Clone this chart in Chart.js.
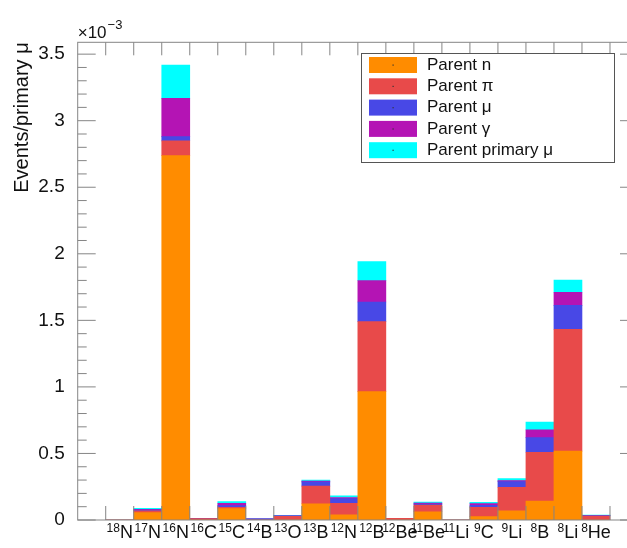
<!DOCTYPE html>
<html>
<head>
<meta charset="utf-8">
<script src="https://cdn.jsdelivr.net/npm/chart.js@4/dist/chart.umd.min.js"></script>
<style>
html,body{margin:0;padding:0;background:#fff;overflow:hidden;}
#wrap{width:627px;height:548px;overflow:hidden;}
canvas{display:block;}
</style>
</head>
<body>
<div id="wrap"><canvas id="c" width="645" height="548"></canvas></div>
<script>
// Isotope bins: mass number (drawn as superscript) and element symbol
const massNumbers = ['18','17','16','16','15','14','13','13','12','12','12','11','11','9','9','8','8','8'];
const elements    = ['N','N','N','C','C','B','O','B','N','B','Be','Be','Li','C','Li','B','Li','He'];

// Events per primary muon (units of 1e-3), split by parent particle
const parentN      = [0, 0.055, 2.737, 0,     0.085, 0,     0,     0.122, 0.038, 0.964, 0,     0.062, 0, 0.025, 0.068, 0.143, 0.518, 0];
const parentPi     = [0, 0.013, 0.111, 0.010, 0.011, 0,     0.028, 0.133, 0.088, 0.526, 0.012, 0.050, 0, 0.071, 0.178, 0.366, 0.915, 0.030];
const parentMu     = [0, 0.006, 0.032, 0,     0.012, 0.008, 0.004, 0.032, 0.035, 0.148, 0,     0.008, 0, 0.015, 0.042, 0.110, 0.180, 0.003];
const parentGamma  = [0, 0.006, 0.288, 0,     0.018, 0,     0,     0.005, 0.008, 0.160, 0,     0.007, 0, 0.012, 0.008, 0.058, 0.098, 0];
const parentPrimMu = [0, 0.008, 0.250, 0,     0.012, 0,     0.004, 0.008, 0.013, 0.143, 0,     0.007, 0, 0.010, 0.015, 0.058, 0.092, 0.004];

const seriesNames  = ['Parent n', 'Parent \u03C0', 'Parent \u03BC', 'Parent \u03B3', 'Parent primary \u03BC'];
const seriesColors = ['#ff8c00', '#e84a4a', '#4848e6', '#b414b4', '#00ffff'];

const yTickStep = 0.5;
const yMinorStep = 0.1;
const yMax = 3.589;

const FONT = "'Liberation Sans', Arial, sans-serif";

// one empty bin on each side of the labelled isotopes
const categories = [''].concat(massNumbers.map((m, i) => m + elements[i]), ['']);
const pad = arr => [null].concat(arr, [null]);
const seriesValues = [parentN, parentPi, parentMu, parentGamma, parentPrimMu];

const datasets = seriesValues.map((vals, k) => ({
  label: seriesNames[k],
  data: pad(vals),
  backgroundColor: seriesColors[k],
  borderWidth: 0,
  barPercentage: 1.0,
  categoryPercentage: 1.0,
  stack: 'parents'
}));

// frame, inward ticks, isotope labels, exponent and legend box
const decorations = {
  id: 'decorations',
  afterDatasetsDraw(chart) {
    const { ctx, chartArea: a, scales: { x, y } } = chart;
    ctx.save();
    ctx.strokeStyle = '#858585';
    ctx.lineWidth = 1;
    ctx.beginPath();
    const n = chart.data.labels.length;
    for (let i = 1; i < n; i++) {
      const xe = (x.getPixelForValue(i - 1) + x.getPixelForValue(i)) / 2;
      ctx.moveTo(xe, a.bottom); ctx.lineTo(xe, a.bottom - 14);
      ctx.moveTo(xe, a.top); ctx.lineTo(xe, a.top + 13);
    }
    const steps = Math.round(yMax / yMinorStep);
    for (let k = 0; k <= steps; k++) {
      const v = k * yMinorStep;
      if (v > yMax) break;
      const yp = y.getPixelForValue(v);
      const major = Math.abs(v / yTickStep - Math.round(v / yTickStep)) < 1e-6;
      const len = major ? 18 : 9;
      ctx.moveTo(a.left, yp); ctx.lineTo(a.left + len, yp);
      ctx.moveTo(a.right, yp); ctx.lineTo(a.right - len, yp);
    }
    ctx.stroke();
    ctx.strokeRect(a.left, a.top, a.right - a.left, a.bottom - a.top);
    ctx.restore();
  },
  afterDraw(chart) {
    const { ctx, chartArea: a, scales: { x } } = chart;
    ctx.save();
    ctx.fillStyle = '#111';
    ctx.textBaseline = 'alphabetic';
    ctx.textAlign = 'left';
    // isotope labels with superscript mass numbers
    const supFont = '12px ' + FONT;
    const mainFont = '18px ' + FONT;
    massNumbers.forEach((m, i) => {
      const cx = x.getPixelForValue(i + 1);
      ctx.font = supFont;
      const ws = ctx.measureText(m).width;
      ctx.font = mainFont;
      const wm = ctx.measureText(elements[i]).width;
      const x0 = cx - (ws + wm) / 2;
      ctx.font = supFont;
      ctx.fillText(m, x0, a.bottom + 11.5);
      ctx.font = mainFont;
      ctx.fillText(elements[i], x0 + ws, a.bottom + 17.5);
    });
    // axis exponent
    ctx.font = '17px ' + FONT;
    ctx.fillText('\u00D710', a.left, a.top - 4);
    const w10 = ctx.measureText('\u00D710').width;
    ctx.font = '13px ' + FONT;
    ctx.fillText('\u22123', a.left + w10 + 1, a.top - 13);

    // legend
    const box = { x: 361, y: 53, w: 253, h: 109 };
    ctx.fillStyle = '#fff';
    ctx.fillRect(box.x, box.y, box.w, box.h);
    ctx.strokeStyle = '#555';
    ctx.lineWidth = 1;
    ctx.strokeRect(box.x + 0.5, box.y + 0.5, box.w, box.h);
    chart.data.datasets.forEach((ds, k) => {
      const ry = box.y + 4 + k * 21.3;
      ctx.fillStyle = ds.backgroundColor;
      ctx.fillRect(box.x + 8, ry, 48, 16);
      ctx.fillStyle = '#333';
      ctx.fillRect(box.x + 31.5, ry + 7.5, 1.2, 1.2);
      ctx.fillStyle = '#111';
      ctx.font = '17px ' + FONT;
      ctx.textBaseline = 'middle';
      ctx.fillText(ds.label, box.x + 66, ry + 8);
    });
    ctx.restore();
  }
};

new Chart(document.getElementById('c'), {
  type: 'bar',
  data: { labels: categories, datasets },
  options: {
    responsive: false,
    animation: false,
    devicePixelRatio: 1,
    layout: { padding: { left: 0, top: 42.3, right: 7, bottom: 0 } },
    plugins: { legend: { display: false }, tooltip: { enabled: false } },
    scales: {
      x: {
        stacked: true,
        offset: true,
        grid: { display: false },
        border: { display: false },
        ticks: { display: false },
        afterFit(scale) { scale.height = 28; }
      },
      y: {
        stacked: true,
        min: 0,
        max: yMax,
        grid: { display: false },
        border: { display: false },
        ticks: {
          stepSize: yTickStep,
          includeBounds: false,
          color: '#111',
          padding: 5,
          font: { family: FONT, size: 19 },
          callback: v => (Math.abs(v / yTickStep - Math.round(v / yTickStep)) < 1e-6 ? String(+v.toFixed(1)) : '')
        },
        title: {
          display: true,
          text: 'Events/primary \u03BC',
          align: 'end',
          color: '#111',
          font: { family: FONT, size: 20 },
          padding: { top: 10, bottom: 0 }
        },
        afterFit(scale) { scale.width = 77.7; }
      }
    }
  },
  plugins: [decorations]
});
</script>
</body>
</html>
